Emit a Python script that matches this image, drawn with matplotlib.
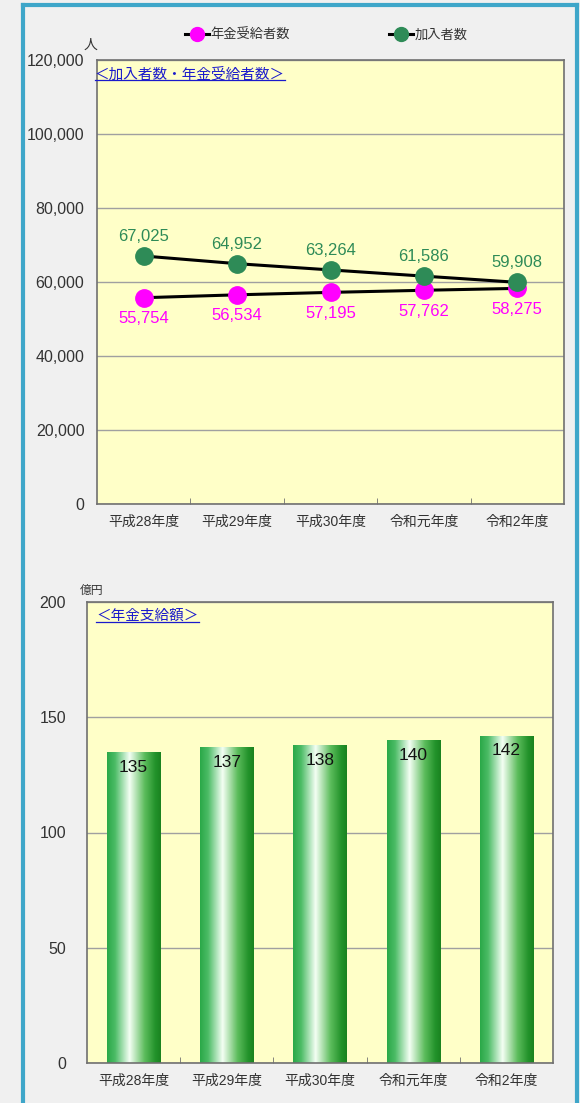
import numpy as np
import matplotlib.pyplot as plt
from matplotlib.colors import LinearSegmentedColormap
from matplotlib.lines import Line2D
from matplotlib.ticker import FuncFormatter, FixedLocator

plt.rcParams['font.family'] = ['Liberation Sans', 'Noto Sans CJK JP', 'DejaVu Sans']

years = ["平成28年度", "平成29年度", "平成30年度", "令和元年度", "令和2年度"]
members = [67025, 64952, 63264, 61586, 59908]
recipients = [55754, 56534, 57195, 57762, 58275]
payments = [135, 137, 138, 140, 142]

BG = "#f0f0f0"
PLOT_BG = "#ffffc8"
GREEN = "#2e8b57"
MAGENTA = "#ff00ff"
TXT = "#333333"
BLUE = "#1a1acc"
CJK = ['Noto Sans CJK JP', 'DejaVu Sans']

fig = plt.figure(figsize=(5.8, 11.03), dpi=100, facecolor=BG)

# frame around the whole thing
border = "#3ea6c9"
fig.add_artist(Line2D([23 / 580, 23 / 580], [0, 1 - 5 / 1103], transform=fig.transFigure, color=border, lw=3))
fig.add_artist(Line2D([23 / 580, 577 / 580], [1 - 5 / 1103, 1 - 5 / 1103], transform=fig.transFigure, color=border, lw=3))
fig.add_artist(Line2D([577 / 580, 577 / 580], [0, 1 - 5 / 1103], transform=fig.transFigure, color=border, lw=3))


def style_axes(ax, ymax, step, fmt):
    ax.set_facecolor(PLOT_BG)
    ax.set_xlim(-0.5, len(years) - 0.5)
    ax.set_ylim(0, ymax)
    ax.set_yticks(np.arange(0, ymax + 1, step))
    ax.yaxis.set_major_formatter(FuncFormatter(fmt))
    ax.set_xticks(range(len(years)))
    ax.set_xticklabels(years)
    ax.xaxis.set_minor_locator(FixedLocator(np.arange(0.5, len(years) - 1, 1)))
    ax.tick_params(axis='x', which='major', length=0, pad=8, labelsize=10, labelcolor=TXT)
    ax.tick_params(axis='x', which='minor', direction='in', length=4, color="#707070")
    ax.tick_params(axis='y', length=0, labelsize=11.5, labelcolor=TXT)
    ax.grid(axis='y', color="#a0a0a0", lw=1)
    ax.set_axisbelow(True)
    for s in ax.spines.values():
        s.set_color("#707070")
        s.set_linewidth(1.2)


# ---- top: members / recipients
ax1 = fig.add_axes([97 / 580, 1 - 504 / 1103, 467 / 580, 444 / 1103])
style_axes(ax1, 120000, 20000, lambda v, p: f"{int(v):,}")
ax1.tick_params(axis='y', pad=9)
x = np.arange(len(years))
ax1.plot(x, recipients, color="black", lw=2.2, marker="o", ms=12.5,
         mfc=MAGENTA, mec=MAGENTA, zorder=3)
ax1.plot(x, members, color="black", lw=2.2, marker="o", ms=12.5,
         mfc=GREEN, mec=GREEN, zorder=4)
for xi, v in zip(x, members):
    ax1.annotate(f"{v:,}", (xi, v), xytext=(0, 14), textcoords="offset points",
                 ha="center", va="center", color=GREEN, fontsize=12)
for xi, v in zip(x, recipients):
    ax1.annotate(f"{v:,}", (xi, v), xytext=(0, -15), textcoords="offset points",
                 ha="center", va="center", color=MAGENTA, fontsize=12)
t1 = ax1.text(-0.005, 0.985, "＜加入者数・年金受給者数＞", transform=ax1.transAxes,
              ha="left", va="top", color=BLUE, fontsize=10.5, family=CJK)
fig.text(90 / 580, 1 - 45 / 1103, "人", ha="center", va="center", fontsize=10,
         color=TXT, family=CJK)

handles = [
    Line2D([], [], color="black", lw=2.2, marker="o", ms=10, mfc=MAGENTA, mec=MAGENTA, label="年金受給者数"),
    Line2D([], [], color="black", lw=2.2, marker="o", ms=10, mfc=GREEN, mec=GREEN, label="加入者数"),
]
fig.legend(handles=handles, loc="center", bbox_to_anchor=(0.563, 1 - 35 / 1103), ncol=2,
           frameon=False, prop={'family': CJK, 'size': 9.5}, handlelength=1.8,
           handletextpad=0.15, columnspacing=7.5, labelcolor=TXT)

# ---- bottom: payments
ax2 = fig.add_axes([87 / 580, 1 - 1063 / 1103, 466 / 580, 461 / 1103])
style_axes(ax2, 200, 50, lambda v, p: f"{int(v)}")
ax2.tick_params(axis='y', pad=15)
bars = ax2.bar(x, payments, width=0.57, color="none", edgecolor="none", zorder=2)
cmap = LinearSegmentedColormap.from_list(
    "cyl", [(0, "#2aa848"), (0.15, "#4cbc66"), (0.42, "#f4fff4"),
            (0.7, "#5cbc5c"), (0.9, "#22922a"), (1, "#1a8220")])
grad = np.linspace(0, 1, 256).reshape(1, -1)
for b in bars:
    bx, bw, bh = b.get_x(), b.get_width(), b.get_height()
    im = ax2.imshow(grad, cmap=cmap, aspect="auto", extent=(bx, bx + bw, 0, bh),
                    origin="lower", zorder=2)
    im.set_clip_path(b)
    ax2.annotate(f"{bh:g}", (b.get_x() + bw / 2, bh), xytext=(0, -11),
                 textcoords="offset points", ha="center", va="center",
                 fontsize=12.5, color="#111111", zorder=5)
ax2.set_xlim(-0.5, len(years) - 0.5)
ax2.set_ylim(0, 200)
t2 = ax2.text(0.02, 0.985, "＜年金支給額＞", transform=ax2.transAxes,
              ha="left", va="top", color=BLUE, fontsize=10.5, family=CJK)
fig.text(92 / 580, 1 - 590 / 1103, "億円", ha="center", va="center", fontsize=8.5,
         color=TXT, family=CJK)

# underline the two panel titles
fig.canvas.draw()
for t in (t1, t2):
    bb = t.get_window_extent().transformed(fig.transFigure.inverted())
    fig.add_artist(Line2D([bb.x0, bb.x1], [bb.y0 + 0.001, bb.y0 + 0.001],
                          transform=fig.transFigure, color=BLUE, lw=0.9))

fig.savefig("out.png", dpi=100, facecolor=BG)
